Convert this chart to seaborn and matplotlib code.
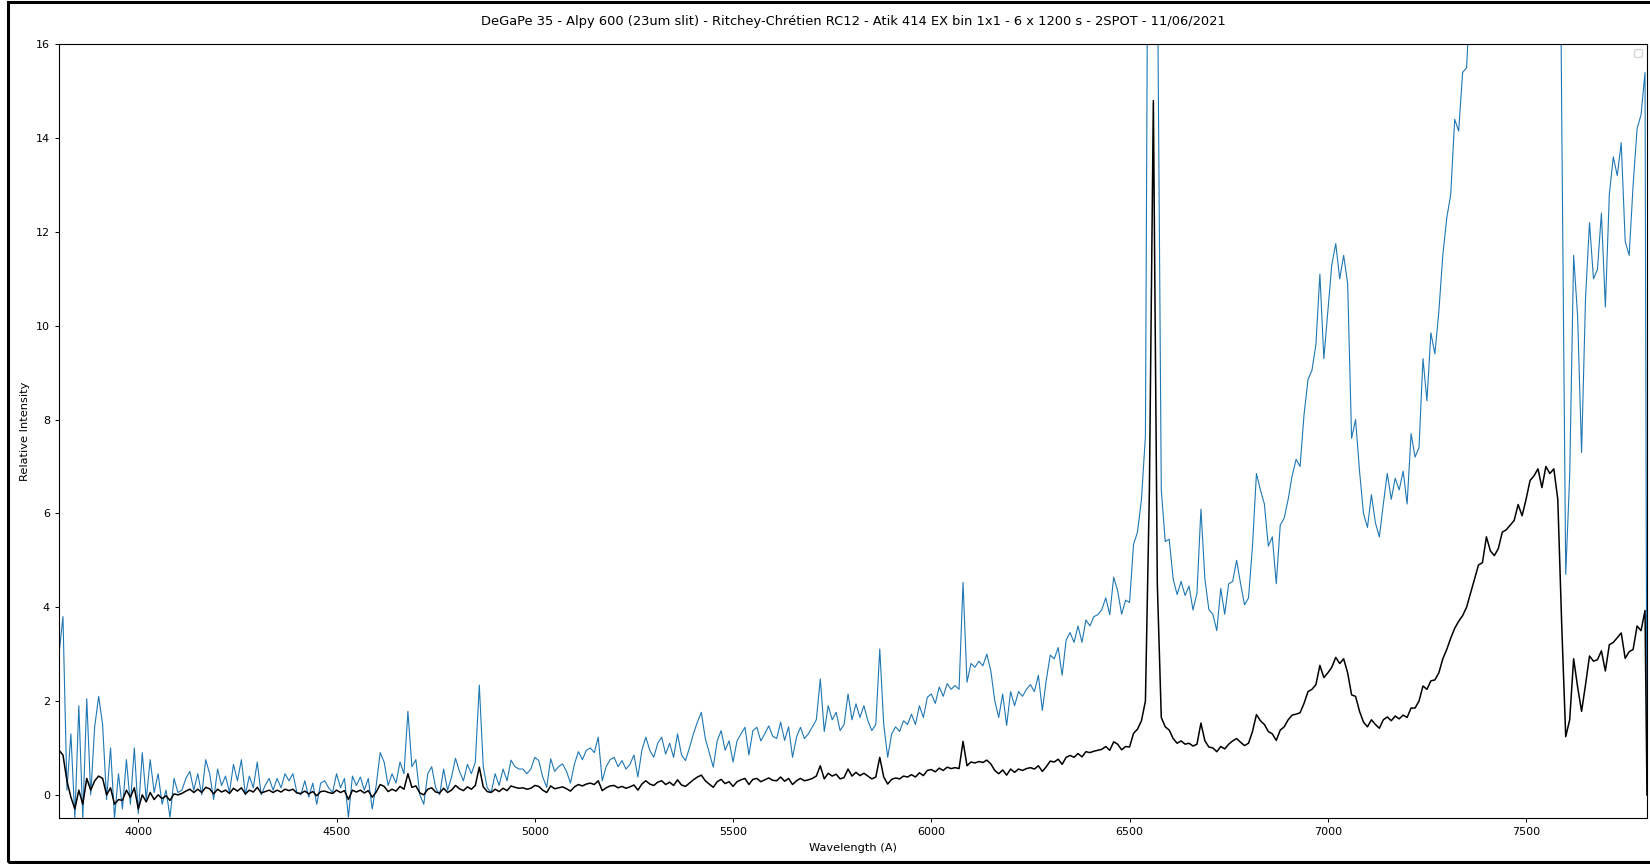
import numpy as np
import matplotlib
matplotlib.use("Agg")
import matplotlib.pyplot as plt
from matplotlib.patches import Rectangle
import seaborn as sns

TITLE = ("DeGaPe 35 - Alpy 600 (23um slit) - Ritchey-Chrétien RC12 - "
         "Atik 414 EX bin 1x1 - 6 x 1200 s - 2SPOT - 11/06/2021")

# sampling grid of the spectrum (Angstrom), last sample closes the file at 7805
wavelength = np.append(np.arange(3800, 7801, 10), 7805)

# spectrum multiplied for display (blue trace), one row per 100 A
flux_x4 = [
    3.0, 3.8, 0.1, 1.3, -0.5, 1.9, -0.5, 2.05, 0.0, 1.45,          # 3800
    2.1, 1.5, -0.1, 1.0, -0.5, 0.45, -0.3, 0.75, -0.2, 1.0,        # 3900
    -0.4, 0.9, -0.1, 0.75, 0.05, 0.45, -0.2, 0.1, -0.48, 0.35,     # 4000
    0.05, 0.1, 0.35, 0.5, 0.1, 0.45, 0.0, 0.75, 0.45, -0.1,        # 4100
    0.55, 0.2, 0.4, 0.05, 0.65, 0.3, 0.75, 0.0, 0.4, 0.15,         # 4200
    0.7, 0.0, 0.2, 0.35, 0.1, 0.35, 0.15, 0.45, 0.3, 0.45,         # 4300
    0.05, 0.0, 0.3, -0.05, 0.25, -0.2, 0.25, 0.3, 0.15, 0.05,      # 4400
    0.45, 0.15, 0.35, -0.48, 0.4, 0.2, 0.38, 0.1, 0.35, -0.3,      # 4500
    0.2, 0.9, 0.7, 0.2, 0.45, 0.25, 0.7, 0.45, 1.78, 0.6,          # 4600
    0.75, 0.0, -0.2, 0.45, 0.6, 0.15, 0.0, 0.55, 0.1, 0.38,        # 4700
    0.78, 0.5, 0.3, 0.65, 0.45, 0.7, 2.34, 0.6, 0.15, 0.05,        # 4800
    0.45, 0.2, 0.55, 0.3, 0.74, 0.6, 0.55, 0.55, 0.45, 0.55,       # 4900
    0.8, 0.73, 0.38, 0.16, 0.77, 0.5, 0.6, 0.66, 0.5, 0.25,        # 5000
    0.66, 0.92, 0.75, 0.95, 1.0, 0.9, 1.23, 0.3, 0.6, 0.75,        # 5100
    0.8, 0.6, 0.73, 0.55, 0.65, 0.85, 0.38, 0.95, 1.23, 0.95,      # 5200
    0.8, 1.1, 1.23, 0.87, 1.1, 0.8, 1.3, 0.85, 0.73, 1.0,          # 5300
    1.3, 1.55, 1.76, 1.2, 0.9, 0.59, 1.15, 1.37, 0.95, 1.15,       # 5400
    0.7, 1.15, 1.3, 1.44, 0.85, 1.37, 1.44, 1.15, 1.3, 1.47,       # 5500
    1.25, 1.2, 1.55, 1.16, 1.45, 0.8, 1.23, 1.44, 1.2, 1.3,        # 5600
    1.45, 1.6, 2.47, 1.35, 1.9, 1.6, 1.76, 1.37, 1.5, 2.15,        # 5700
    1.6, 1.94, 1.65, 1.9, 1.58, 1.37, 1.5, 3.11, 1.5, 0.8,         # 5800
    1.3, 1.45, 1.35, 1.58, 1.5, 1.72, 1.5, 1.9, 1.65, 2.08,        # 5900
    2.15, 1.95, 2.3, 2.1, 2.37, 2.25, 2.33, 2.25, 4.53, 2.4,       # 6000
    2.8, 2.72, 2.85, 2.75, 3.0, 2.65, 2.01, 1.65, 2.15, 1.48,      # 6100
    2.2, 1.9, 2.2, 2.1, 2.25, 2.35, 2.2, 2.55, 1.8, 2.45,          # 6200
    2.98, 2.9, 3.14, 2.55, 3.3, 3.46, 3.25, 3.6, 3.25, 3.73,       # 6300
    3.6, 3.8, 3.84, 3.95, 4.2, 3.84, 4.64, 4.35, 3.85, 4.15,       # 6400
    4.1, 5.34, 5.6, 6.3, 7.65, 26.0, 59.0, 18.0, 6.5, 5.4,         # 6500
    5.45, 4.6, 4.27, 4.55, 4.25, 4.45, 3.94, 4.3, 6.09, 4.6,       # 6600
    3.95, 3.85, 3.5, 4.4, 3.85, 4.5, 4.55, 5.0, 4.5, 4.05,         # 6700
    4.2, 5.3, 6.85, 6.5, 6.2, 5.3, 5.5, 4.5, 5.75, 5.9,            # 6800
    6.3, 6.8, 7.15, 7.0, 8.1, 8.85, 9.05, 9.6, 11.1, 9.3,          # 6900
    10.3, 11.3, 11.75, 11.0, 11.5, 10.9, 7.6, 8.0, 6.9, 6.0,       # 7000
    5.7, 6.4, 5.8, 5.5, 6.2, 6.85, 6.3, 6.75, 6.5, 6.9,            # 7100
    6.2, 7.7, 7.2, 7.4, 9.3, 8.4, 9.85, 9.4, 10.3, 11.5,           # 7200
    12.3, 12.8, 14.4, 14.15, 15.4, 15.5, 17.2, 18.4, 19.6, 19.8,   # 7300
    22.0, 20.8, 20.4, 21.0, 22.4, 22.6, 23.0, 23.4, 24.8, 23.8,    # 7400
    25.2, 26.8, 27.2, 27.8, 26.2, 28.0, 27.4, 27.8, 25.2, 14.4,    # 7500
    4.7, 6.8, 11.5, 10.2, 7.3, 10.6, 12.2, 11.0, 11.2, 12.4,       # 7600
    10.4, 12.8, 13.6, 13.2, 13.9, 11.8, 11.5, 13.0, 14.2, 14.5,    # 7700
    15.4, 0.0,                                                     # 7800, 7805
]

# relative intensity (black trace)
flux = [
    0.95, 0.85, 0.3, -0.05, -0.3, 0.1, -0.2, 0.35, 0.1, 0.3,       # 3800
    0.4, 0.35, 0.0, 0.15, -0.2, -0.1, -0.12, 0.1, -0.05, 0.15,     # 3900
    -0.3, 0.0, -0.15, 0.05, -0.1, 0.0, -0.08, -0.02, -0.12, 0.02,  # 4000
    0.0, 0.03, 0.08, 0.12, 0.05, 0.12, 0.05, 0.16, 0.13, 0.02,     # 4100
    0.12, 0.06, 0.1, 0.03, 0.14, 0.08, 0.15, 0.02, 0.1, 0.06,      # 4200
    0.16, 0.04, 0.07, 0.1, 0.05, 0.1, 0.06, 0.12, 0.09, 0.12,      # 4300
    0.04, 0.03, 0.08, 0.02, 0.07, -0.02, 0.07, 0.08, 0.05, 0.03,   # 4400
    0.1, 0.05, 0.09, -0.1, 0.1, 0.06, 0.1, 0.04, 0.09, -0.05,      # 4500
    0.06, 0.22, 0.18, 0.07, 0.12, 0.08, 0.18, 0.12, 0.45, 0.16,    # 4600
    0.19, 0.04, 0.0, 0.12, 0.15, 0.06, 0.04, 0.14, 0.05, 0.1,      # 4700
    0.2, 0.13, 0.09, 0.17, 0.12, 0.2, 0.59, 0.17, 0.07, 0.05,      # 4800
    0.12, 0.07, 0.14, 0.09, 0.19, 0.16, 0.14, 0.15, 0.12, 0.14,    # 4900
    0.2, 0.18, 0.1, 0.05, 0.19, 0.13, 0.15, 0.17, 0.13, 0.08,      # 5000
    0.17, 0.22, 0.19, 0.23, 0.25, 0.22, 0.3, 0.09, 0.15, 0.19,     # 5100
    0.2, 0.15, 0.18, 0.14, 0.17, 0.21, 0.1, 0.23, 0.3, 0.23,       # 5200
    0.2, 0.27, 0.3, 0.22, 0.27, 0.2, 0.32, 0.21, 0.18, 0.25,       # 5300
    0.32, 0.38, 0.42, 0.3, 0.23, 0.16, 0.28, 0.33, 0.24, 0.28,     # 5400
    0.18, 0.28, 0.32, 0.35, 0.22, 0.33, 0.35, 0.28, 0.32, 0.36,    # 5500
    0.31, 0.3, 0.38, 0.29, 0.35, 0.22, 0.3, 0.35, 0.3, 0.32,       # 5600
    0.35, 0.4, 0.62, 0.34, 0.46, 0.4, 0.44, 0.34, 0.37, 0.55,      # 5700
    0.4, 0.48, 0.41, 0.46, 0.4, 0.34, 0.38, 0.8, 0.38, 0.23,       # 5800
    0.33, 0.36, 0.34, 0.4, 0.38, 0.43, 0.38, 0.47, 0.41, 0.52,     # 5900
    0.54, 0.49, 0.57, 0.52, 0.59, 0.56, 0.58, 0.56, 1.14, 0.62,    # 6000
    0.7, 0.68, 0.71, 0.69, 0.74, 0.66, 0.52, 0.45, 0.53, 0.42,     # 6100
    0.55, 0.48, 0.55, 0.52, 0.56, 0.58, 0.55, 0.62, 0.5, 0.6,      # 6200
    0.72, 0.7, 0.76, 0.65, 0.8, 0.84, 0.8, 0.88, 0.81, 0.92,       # 6300
    0.9, 0.93, 0.95, 0.97, 1.03, 0.95, 1.13, 1.08, 0.96, 1.03,     # 6400
    1.02, 1.31, 1.4, 1.58, 2.0, 6.5, 14.8, 4.5, 1.65, 1.45,        # 6500
    1.38, 1.2, 1.1, 1.15, 1.08, 1.1, 1.04, 1.08, 1.53, 1.15,       # 6600
    1.02, 1.0, 0.92, 1.03, 0.98, 1.08, 1.15, 1.2, 1.12, 1.05,      # 6700
    1.1, 1.35, 1.71, 1.58, 1.5, 1.35, 1.3, 1.16, 1.38, 1.45,       # 6800
    1.6, 1.7, 1.72, 1.75, 1.95, 2.2, 2.25, 2.35, 2.76, 2.5,        # 6900
    2.6, 2.72, 2.93, 2.8, 2.9, 2.6, 2.13, 2.1, 1.78, 1.55,         # 7000
    1.45, 1.6, 1.5, 1.42, 1.6, 1.66, 1.58, 1.68, 1.62, 1.7,        # 7100
    1.65, 1.85, 1.85, 2.0, 2.32, 2.25, 2.43, 2.45, 2.6, 2.9,       # 7200
    3.1, 3.34, 3.55, 3.7, 3.82, 4.0, 4.3, 4.6, 4.9, 4.95,          # 7300
    5.5, 5.2, 5.1, 5.25, 5.6, 5.65, 5.75, 5.85, 6.19, 5.95,        # 7400
    6.3, 6.7, 6.8, 6.95, 6.55, 7.0, 6.85, 6.95, 6.3, 3.6,          # 7500
    1.24, 1.6, 2.9, 2.3, 1.78, 2.35, 2.96, 2.85, 2.88, 3.07,       # 7600
    2.64, 3.2, 3.25, 3.35, 3.45, 2.91, 3.05, 3.1, 3.6, 3.5,        # 7700
    3.93, 0.0,                                                     # 7800, 7805
]

y_ticks = [0, 2, 4, 6, 8, 10, 12, 14, 16]
x_ticks = [4000, 4500, 5000, 5500, 6000, 6500, 7000, 7500]


def main():
    fig = plt.figure(figsize=(16.5, 8.64), dpi=100)
    ax = fig.add_axes([59 / 1650, 45.7 / 864, 1588 / 1650, 774 / 864])

    sns.lineplot(x=wavelength, y=flux_x4, ax=ax, color="#1f77b4",
                 linewidth=0.8, estimator=None, sort=False)
    sns.lineplot(x=wavelength, y=flux, ax=ax, color="black",
                 linewidth=1.1, estimator=None, sort=False)

    ax.set_xlim(3800, 7805)
    ax.set_ylim(-0.5, 16)
    ax.set_xticks(x_ticks)
    ax.set_yticks(y_ticks)
    ax.tick_params(labelsize=8, length=3, width=0.7)
    for spine in ax.spines.values():
        spine.set_linewidth(0.8)

    ax.set_xlabel("Wavelength (A)", fontsize=8.2)
    ax.set_ylabel("Relative Intensity", fontsize=8.2)
    ax.set_title(TITLE, fontsize=9.4, pad=14)
    ax.legend(handles=[], loc="upper right", fontsize=7)

    # dark frame around the captured output
    fig.patches.append(Rectangle((8 / 1650, 2 / 864), 2.0, 860 / 864,
                                 transform=fig.transFigure, fill=False,
                                 edgecolor="black", linewidth=2.2))

    fig.savefig("out.png", dpi=100)
    plt.close(fig)


if __name__ == "__main__":
    main()
